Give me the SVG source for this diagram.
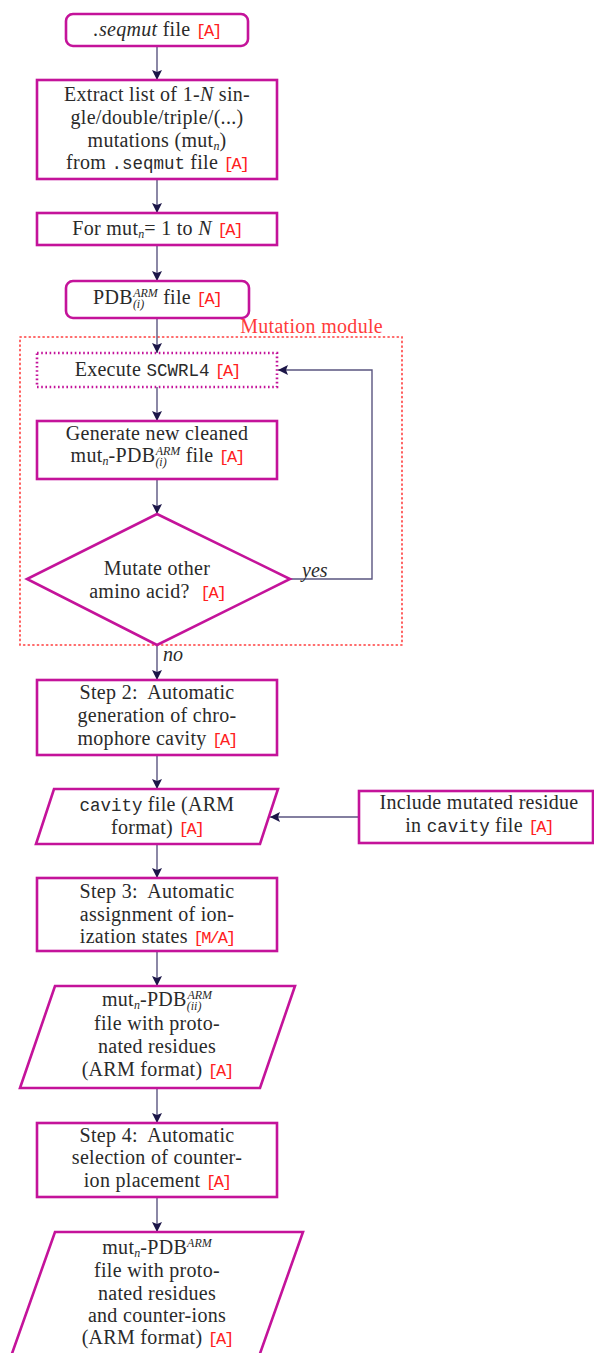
<svg xmlns="http://www.w3.org/2000/svg" width="594" height="1353" viewBox="0 0 594 1353">
<style>
.box{fill:#fff;stroke:#C4139A;stroke-width:2.6}
.dbox{fill:#fff;stroke:#C4139A;stroke-width:2.6;stroke-dasharray:1.6 2.6}
.mod{fill:none;stroke:#FF3B3B;stroke-width:1.6;stroke-dasharray:1.2 3.4;stroke-linecap:round}
.t{font-family:"Liberation Serif",serif;font-size:20px;fill:#2a2a2a;text-anchor:middle;letter-spacing:0.3px}
.i{font-style:italic}
.m{font-family:"Liberation Mono",monospace;font-size:17.5px;letter-spacing:0}
.a{font-family:"Liberation Mono",monospace;font-size:17px;fill:#FF2020;letter-spacing:-2px}
.s{font-size:12px;font-style:italic;letter-spacing:0}
.lbl{font-family:"Liberation Serif",serif;font-size:20px;font-style:italic;fill:#2a2a2a}
.conn{fill:none;stroke:#5A5580;stroke-width:1.4}
</style>
<defs>
<marker id="ah" markerUnits="userSpaceOnUse" markerWidth="11" markerHeight="11" refX="10" refY="5" orient="auto">
<path d="M0,0 L10,5 L0,10 L2,5 z" fill="#1C1648"/>
</marker>
</defs>

<rect class="mod" x="20" y="337" width="382" height="308"/>
<text x="383" y="333" style="font-family:'Liberation Serif',serif;font-size:20px;fill:#FF3B3B;text-anchor:end;letter-spacing:0.3px">Mutation module</text>

<g id="connectors">
<line class="conn" x1="157" y1="46" x2="157" y2="80" marker-end="url(#ah)"/>
<line class="conn" x1="157" y1="179" x2="157" y2="213" marker-end="url(#ah)"/>
<line class="conn" x1="157" y1="245" x2="157" y2="281" marker-end="url(#ah)"/>
<line class="conn" x1="157" y1="318" x2="157" y2="353" marker-end="url(#ah)"/>
<line class="conn" x1="157" y1="387" x2="157" y2="421" marker-end="url(#ah)"/>
<line class="conn" x1="157" y1="479" x2="157" y2="514" marker-end="url(#ah)"/>
<line class="conn" x1="157" y1="645" x2="157" y2="680" marker-end="url(#ah)"/>
<line class="conn" x1="157" y1="755" x2="157" y2="789" marker-end="url(#ah)"/>
<line class="conn" x1="157" y1="844" x2="157" y2="878" marker-end="url(#ah)"/>
<line class="conn" x1="157" y1="951" x2="157" y2="986" marker-end="url(#ah)"/>
<line class="conn" x1="157" y1="1088" x2="157" y2="1123" marker-end="url(#ah)"/>
<line class="conn" x1="157" y1="1197" x2="157" y2="1232" marker-end="url(#ah)"/>
<polyline class="conn" points="290,579 372,579 372,370 278,370" marker-end="url(#ah)"/>
<line class="conn" x1="359" y1="817" x2="270" y2="817" marker-end="url(#ah)"/>
<text class="lbl" x="302" y="577">yes</text>
<text class="lbl" x="163" y="661">no</text>
</g>

<g id="n1">
<rect class="box" x="66" y="14" width="182" height="32" rx="7"/>
<text class="t" x="157" y="36"><tspan class="i">.seqmut</tspan> file <tspan class="a">[A]</tspan></text>
</g>

<g id="n2">
<rect class="box" x="37" y="80" width="240" height="99"/>
<text class="t" x="157" y="101">Extract list of 1-<tspan class="i">N</tspan> sin-</text>
<text class="t" x="157" y="124">gle/double/triple/(...)</text>
<text class="t" x="157" y="147">mutations (mut<tspan class="s" dy="3">n</tspan><tspan dy="-3">)</tspan></text>
<text class="t" x="157" y="169">from <tspan class="m">.seqmut</tspan> file <tspan class="a">[A]</tspan></text>
</g>

<g id="n3">
<rect class="box" x="37" y="213" width="240" height="32"/>
<text class="t" x="157" y="235">For mut<tspan class="s" dy="3">n</tspan><tspan dy="-3">= 1 to </tspan><tspan class="i">N</tspan> <tspan class="a">[A]</tspan></text>
</g>

<g id="n4">
<rect class="box" x="66" y="281" width="183" height="37" rx="7"/>
<text class="t" x="157" y="304">PDB<tspan class="s" dy="4">(i)</tspan><tspan class="s" dx="-11" dy="-11">ARM</tspan><tspan dy="7"> file </tspan><tspan class="a">[A]</tspan></text>
</g>

<g id="n5">
<rect class="dbox" x="37" y="353" width="240" height="34"/>
<text class="t" x="157" y="376">Execute <tspan class="m">SCWRL4</tspan> <tspan class="a">[A]</tspan></text>
</g>

<g id="n6">
<rect class="box" x="37" y="421" width="240" height="58"/>
<text class="t" x="157" y="440">Generate new cleaned</text>
<text class="t" x="157" y="462">mut<tspan class="s" dy="3">n</tspan><tspan dy="-3">-PDB</tspan><tspan class="s" dy="4">(i)</tspan><tspan class="s" dx="-11" dy="-11">ARM</tspan><tspan dy="7"> file </tspan><tspan class="a">[A]</tspan></text>
</g>

<g id="n7">
<polygon class="box" points="157,514 290,579 157,645 27,579"/>
<text class="t" x="157" y="575">Mutate other</text>
<text class="t" x="157" y="598">amino acid?&#160; <tspan class="a">[A]</tspan></text>
</g>

<g id="n8">
<rect class="box" x="37" y="680" width="240" height="75"/>
<text class="t" x="157" y="699">Step 2:&#160; Automatic</text>
<text class="t" x="157" y="722">generation of chro-</text>
<text class="t" x="157" y="745">mophore cavity <tspan class="a">[A]</tspan></text>
</g>

<g id="n9">
<polygon class="box" points="54,789 278,789 260,844 36,844"/>
<text class="t" x="157" y="811"><tspan class="m">cavity</tspan> file (ARM</text>
<text class="t" x="157" y="834">format) <tspan class="a">[A]</tspan></text>
</g>

<g id="n10">
<rect class="box" x="359" y="791" width="234" height="52"/>
<text class="t" x="479" y="809">Include mutated residue</text>
<text class="t" x="479" y="832">in <tspan class="m">cavity</tspan> file <tspan class="a">[A]</tspan></text>
</g>

<g id="n11">
<rect class="box" x="37" y="878" width="240" height="73"/>
<text class="t" x="157" y="898">Step 3:&#160; Automatic</text>
<text class="t" x="157" y="921">assignment of ion-</text>
<text class="t" x="157" y="943">ization states <tspan class="a">[M/A]</tspan></text>
</g>

<g id="n12">
<polygon class="box" points="55,986 295,986 260,1088 20,1088"/>
<text class="t" x="157" y="1006">mut<tspan class="s" dy="3">n</tspan><tspan dy="-3">-PDB</tspan><tspan class="s" dy="4">(ii)</tspan><tspan class="s" dx="-14" dy="-11">ARM</tspan></text>
<text class="t" x="157" y="1030">file with proto-</text>
<text class="t" x="157" y="1053">nated residues</text>
<text class="t" x="157" y="1076">(ARM format) <tspan class="a">[A]</tspan></text>
</g>

<g id="n13">
<rect class="box" x="37" y="1123" width="240" height="74"/>
<text class="t" x="157" y="1142">Step 4:&#160; Automatic</text>
<text class="t" x="157" y="1164">selection of counter-</text>
<text class="t" x="157" y="1187">ion placement <tspan class="a">[A]</tspan></text>
</g>

<g id="n14">
<polygon class="box" points="55,1232 303,1232 257,1362 9,1362"/>
<text class="t" x="157" y="1254">mut<tspan class="s" dy="3">n</tspan><tspan dy="-3">-PDB</tspan><tspan class="s" dy="-7">ARM</tspan></text>
<text class="t" x="157" y="1277">file with proto-</text>
<text class="t" x="157" y="1300">nated residues</text>
<text class="t" x="157" y="1322">and counter-ions</text>
<text class="t" x="157" y="1344">(ARM format) <tspan class="a">[A]</tspan></text>
</g>
</svg>
